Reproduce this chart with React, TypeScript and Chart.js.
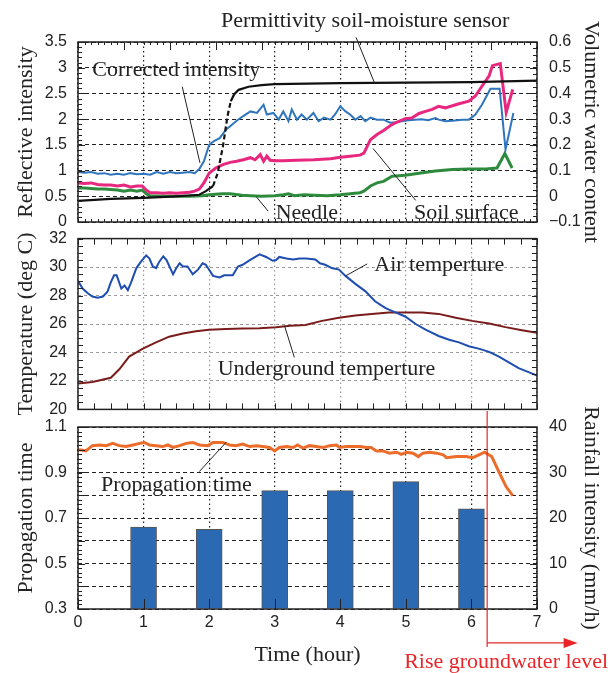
import React, { useEffect, useRef } from 'react';
import { Chart, registerables } from 'chart.js';

Chart.register(...registerables);

// ---------------- data ----------------
const hourTicks = [0, 1, 2, 3, 4, 5, 6, 7];
const hourLabels = ['0', '1', '2', '3', '4', '5', '6', '7'];

const intensityTicks = [0, 0.5, 1, 1.5, 2, 2.5, 3, 3.5];
const intensityLabels = ['0', '0.5', '1', '1.5', '2', '2.5', '3', '3.5'];
const waterTicks = [-0.1, 0, 0.1, 0.2, 0.3, 0.4, 0.5, 0.6];
const waterLabels = ['\u22120.1', '0', '0.1', '0.2', '0.3', '0.4', '0.5', '0.6'];
const tempTicks = [20, 22, 24, 26, 28, 30, 32];
const tempLabels = ['20', '22', '24', '26', '28', '30', '32'];
const propTicks = [0.3, 0.4, 0.5, 0.6, 0.7, 0.8, 0.9, 1.0, 1.1];
const propLabels = ['0.3', '', '0.5', '', '0.7', '', '0.9', '', '1.1'];
const rainTicks = [0, 10, 20, 30, 40];
const rainLabels = ['0', '10', '20', '30', '40'];

// Top panel: reflective intensity (left axis)
const correctedHours = [0, 0.1, 0.2, 0.3, 0.4, 0.5, 0.6, 0.7, 0.8, 0.9, 1.0, 1.1, 1.2, 1.3, 1.4, 1.5, 1.6, 1.7, 1.78, 1.85, 1.92, 2.0, 2.08, 2.16, 2.26, 2.32, 2.42, 2.52, 2.63, 2.73, 2.83, 2.88, 2.98, 3.06, 3.13, 3.21, 3.26, 3.34, 3.41, 3.49, 3.59, 3.67, 3.75, 3.85, 3.92, 4.0, 4.08, 4.15, 4.23, 4.31, 4.38, 4.46, 4.56, 4.66, 4.76, 4.84, 4.94, 5.04, 5.14, 5.24, 5.34, 5.45, 5.5, 5.6, 5.71, 5.86, 5.96, 6.06, 6.16, 6.29, 6.43, 6.52, 6.64];
const correctedValues = [0.97, 0.96, 0.97, 0.94, 0.95, 0.92, 0.94, 0.92, 0.95, 0.93, 0.94, 0.92, 0.97, 0.94, 0.97, 0.95, 0.96, 0.97, 0.95, 1.03, 1.18, 1.5, 1.58, 1.63, 1.8, 1.86, 1.97, 2.06, 2.15, 2.12, 2.28, 2.09, 2.12, 1.99, 2.15, 1.96, 2.19, 1.99, 2.09, 1.99, 2.12, 1.96, 2.03, 1.99, 2.09, 2.25, 2.15, 2.09, 1.99, 2.06, 1.96, 2.03, 1.99, 1.99, 1.93, 1.94, 1.96, 1.98, 1.99, 2.0, 1.98, 2.02, 1.99, 1.96, 1.97, 1.99, 1.99, 2.09, 2.28, 2.59, 2.59, 1.41, 2.12];

const surfaceHours = [0, 0.1, 0.2, 0.3, 0.4, 0.5, 0.6, 0.7, 0.8, 0.9, 0.98, 1.04, 1.1, 1.2, 1.3, 1.4, 1.5, 1.6, 1.7, 1.78, 1.85, 1.92, 2.0, 2.1, 2.22, 2.32, 2.42, 2.52, 2.63, 2.7, 2.78, 2.83, 2.88, 2.93, 3.0, 3.13, 3.34, 3.6, 3.85, 4.0, 4.15, 4.3, 4.36, 4.41, 4.46, 4.56, 4.66, 4.76, 4.84, 4.99, 5.09, 5.2, 5.3, 5.4, 5.5, 5.6, 5.71, 5.81, 5.96, 6.06, 6.16, 6.27, 6.32, 6.44, 6.53, 6.63];
const surfaceValues = [0.76, 0.75, 0.76, 0.73, 0.72, 0.72, 0.70, 0.72, 0.68, 0.70, 0.70, 0.62, 0.57, 0.57, 0.56, 0.57, 0.56, 0.57, 0.58, 0.60, 0.64, 0.76, 0.95, 1.05, 1.12, 1.16, 1.18, 1.21, 1.25, 1.21, 1.31, 1.18, 1.28, 1.20, 1.19, 1.19, 1.20, 1.21, 1.23, 1.26, 1.28, 1.30, 1.34, 1.47, 1.60, 1.70, 1.78, 1.87, 1.93, 2.01, 2.02, 2.11, 2.15, 2.19, 2.25, 2.22, 2.26, 2.30, 2.35, 2.45, 2.64, 2.84, 3.04, 3.08, 2.13, 2.58];

const needleHours = [0, 0.1, 0.2, 0.3, 0.4, 0.5, 0.6, 0.7, 0.8, 0.9, 0.98, 1.04, 1.1, 1.3, 1.5, 1.7, 1.9, 2.0, 2.1, 2.2, 2.32, 2.5, 2.63, 2.8, 3.0, 3.13, 3.21, 3.3, 3.45, 3.6, 3.8, 4.0, 4.15, 4.3, 4.36, 4.46, 4.56, 4.66, 4.79, 4.89, 4.99, 5.2, 5.45, 5.71, 5.96, 6.22, 6.39, 6.51, 6.62];
const needleValues = [0.66, 0.66, 0.65, 0.64, 0.64, 0.63, 0.62, 0.60, 0.62, 0.60, 0.62, 0.55, 0.51, 0.50, 0.50, 0.50, 0.51, 0.53, 0.54, 0.55, 0.55, 0.52, 0.51, 0.50, 0.51, 0.53, 0.55, 0.51, 0.53, 0.52, 0.51, 0.53, 0.55, 0.57, 0.60, 0.70, 0.76, 0.79, 0.89, 0.90, 0.91, 0.95, 0.99, 1.02, 1.03, 1.03, 1.05, 1.33, 1.05];

// Top panel: volumetric water content (right axis)
const sensorHours = [0, 0.5, 1.0, 1.5, 1.85, 1.95, 2.06, 2.13, 2.21, 2.28, 2.33, 2.38, 2.45, 2.6, 2.8, 3.0, 3.5, 4.0, 5.0, 6.0, 7.0];
const sensorValues = [-0.018, -0.01, -0.006, 0.0, 0.006, 0.02, 0.04, 0.09, 0.194, 0.312, 0.37, 0.396, 0.414, 0.426, 0.432, 0.436, 0.438, 0.44, 0.442, 0.444, 0.45];

// Middle panel: temperatures
const airHours = [0.0, 0.07, 0.15, 0.22, 0.30, 0.38, 0.45, 0.50, 0.55, 0.59, 0.66, 0.71, 0.76, 0.81, 0.89, 0.96, 1.04, 1.09, 1.14, 1.19, 1.24, 1.30, 1.35, 1.45, 1.50, 1.55, 1.60, 1.67, 1.75, 1.83, 1.90, 1.95, 2.06, 2.16, 2.23, 2.36, 2.44, 2.51, 2.62, 2.77, 2.87, 2.97, 3.02, 3.07, 3.18, 3.28, 3.38, 3.48, 3.62, 3.69, 3.77, 3.87, 3.98, 4.08, 4.23, 4.38, 4.53, 4.69, 4.84, 4.99, 5.15, 5.30, 5.50, 5.66, 5.81, 5.96, 6.11, 6.27, 6.42, 6.57, 6.72, 6.88, 7.0];
const airValues = [29.04, 28.49, 28.16, 27.93, 27.85, 27.93, 28.27, 28.93, 29.42, 29.42, 28.49, 28.71, 28.38, 28.93, 29.93, 30.38, 30.82, 30.6, 30.04, 29.93, 30.38, 30.76, 30.49, 29.49, 29.93, 30.27, 30.04, 30.04, 29.49, 29.82, 30.27, 30.16, 29.38, 29.27, 29.42, 29.42, 30.04, 30.16, 30.49, 30.89, 30.71, 30.44, 30.49, 30.71, 30.6, 30.53, 30.6, 30.6, 30.53, 30.27, 30.16, 29.93, 29.82, 29.38, 28.82, 28.31, 27.6, 27.11, 26.82, 26.53, 26.0, 25.6, 25.16, 24.89, 24.71, 24.44, 24.27, 24.04, 23.71, 23.3, 22.9, 22.6, 22.38];

const groundHours = [0.0, 0.22, 0.5, 0.63, 0.78, 0.99, 1.19, 1.39, 1.6, 1.8, 2.0, 2.26, 2.51, 2.77, 3.02, 3.23, 3.47, 3.72, 3.98, 4.23, 4.48, 4.74, 4.99, 5.25, 5.5, 5.76, 6.01, 6.27, 6.52, 6.77, 7.0];
const groundValues = [21.82, 21.93, 22.22, 22.82, 23.71, 24.27, 24.71, 25.11, 25.33, 25.49, 25.6, 25.64, 25.69, 25.71, 25.78, 25.87, 25.93, 26.22, 26.44, 26.6, 26.71, 26.8, 26.8, 26.8, 26.71, 26.44, 26.22, 26.04, 25.78, 25.56, 25.38];

// Bottom panel: propagation time (left) and rainfall (right)
const propHours = [0, 0.05, 0.12, 0.22, 0.33, 0.43, 0.53, 0.63, 0.73, 0.84, 0.94, 1.01, 1.09, 1.19, 1.29, 1.37, 1.45, 1.55, 1.65, 1.75, 1.85, 1.98, 2.06, 2.21, 2.31, 2.41, 2.51, 2.62, 2.72, 2.82, 2.92, 3.0, 3.07, 3.18, 3.28, 3.35, 3.43, 3.53, 3.63, 3.74, 3.84, 3.94, 3.99, 4.09, 4.19, 4.30, 4.40, 4.47, 4.55, 4.65, 4.75, 4.86, 4.93, 5.01, 5.11, 5.19, 5.26, 5.36, 5.47, 5.57, 5.62, 5.77, 5.92, 6.02, 6.13, 6.20, 6.31, 6.43, 6.53, 6.63];
const propValues = [1.0, 0.999, 0.995, 1.018, 1.021, 1.018, 1.028, 1.018, 1.014, 1.021, 1.028, 1.032, 1.021, 1.018, 1.014, 1.021, 1.010, 1.018, 1.028, 1.032, 1.021, 1.018, 1.032, 1.032, 1.021, 1.018, 1.025, 1.014, 1.018, 1.014, 1.010, 0.995, 1.010, 1.014, 1.010, 1.021, 1.007, 1.018, 1.014, 1.010, 1.018, 1.021, 1.010, 1.014, 1.014, 1.014, 1.010, 1.010, 0.995, 0.995, 0.985, 0.989, 0.980, 0.989, 0.985, 0.970, 0.985, 0.989, 0.985, 0.978, 0.965, 0.970, 0.970, 0.965, 0.980, 0.989, 0.970, 0.896, 0.837, 0.798];

const rainHours = [1, 2, 3, 4, 5, 6];
const rainValues = [18, 17.5, 26, 26, 28, 22];

// ---------------- styling helpers ----------------
const W = 614;
const SANS = "'Liberation Sans', Arial, sans-serif";
const SERIF = "'Liberation Serif', 'Times New Roman', serif";
const INK = '#222';
const RED = '#e8262a';
const tickFont = { family: SANS, size: 16 };
const titleFont = { family: SERIF, size: 22 };

const pts = (xs: number[], ys: number[]) => xs.map((x, i) => ({ x, y: ys[i] }));
const setTicks = (vals: number[]) => (s: any) => { s.ticks = vals.map((value) => ({ value })); };
const labelsOf = (labels: string[]) => (_v: any, i: number) => labels[i];
const fixWidth = (w: number) => (s: any) => { s.width = w; };
const fixHeight = (h: number) => (s: any) => { s.height = h; };

type TickSpec = { scale: string; side: string; step: number; len: number };
type Note = { text: string; x: number; y: number; yScale: string; color?: string };
type Leader = { x1: number; y1: number; x2: number; y2: number; yScale: string; color?: string; width?: number };
type Arrow = { x1: number; x2: number; y: number; yScale: string; color: string };
type Spec = { ticks: TickSpec[]; notes: Note[]; leaders: Leader[]; arrows?: Arrow[] };

function decor(spec: Spec) {
  return {
    id: 'decor',
    afterDraw(chart: any) {
      const { ctx, chartArea: a, scales } = chart;
      const X = scales.x;
      ctx.save();
      ctx.strokeStyle = INK;
      ctx.lineWidth = 1;
      for (const t of spec.ticks) {
        const s = scales[t.scale];
        const n = Math.round((s.max - s.min) / t.step);
        ctx.beginPath();
        for (let i = 0; i <= n; i++) {
          const p = Math.round(s.getPixelForValue(s.min + i * t.step)) + 0.5;
          if (t.side === 'left') { ctx.moveTo(a.left, p); ctx.lineTo(a.left + t.len, p); }
          else if (t.side === 'right') { ctx.moveTo(a.right, p); ctx.lineTo(a.right - t.len, p); }
          else if (t.side === 'top') { ctx.moveTo(p, a.top); ctx.lineTo(p, a.top + t.len); }
          else { ctx.moveTo(p, a.bottom); ctx.lineTo(p, a.bottom - t.len); }
        }
        ctx.stroke();
      }
      ctx.lineWidth = 1.5;
      ctx.strokeStyle = INK;
      ctx.strokeRect(a.left, a.top, a.right - a.left, a.bottom - a.top);
      for (const l of spec.leaders) {
        const Y = scales[l.yScale];
        ctx.strokeStyle = l.color || INK;
        ctx.lineWidth = l.width || 1;
        ctx.beginPath();
        ctx.moveTo(X.getPixelForValue(l.x1), Y.getPixelForValue(l.y1));
        ctx.lineTo(X.getPixelForValue(l.x2), Y.getPixelForValue(l.y2));
        ctx.stroke();
      }
      for (const ar of spec.arrows || []) {
        const y = scales[ar.yScale].getPixelForValue(ar.y);
        const xa = X.getPixelForValue(ar.x1);
        const xb = X.getPixelForValue(ar.x2);
        ctx.strokeStyle = ar.color;
        ctx.fillStyle = ar.color;
        ctx.lineWidth = 1.2;
        ctx.beginPath();
        ctx.moveTo(xa, y);
        ctx.lineTo(xb - 10, y);
        ctx.stroke();
        ctx.beginPath();
        ctx.moveTo(xb, y);
        ctx.lineTo(xb - 14, y - 5);
        ctx.lineTo(xb - 14, y + 5);
        ctx.closePath();
        ctx.fill();
      }
      ctx.font = `22px ${SERIF}`;
      ctx.textAlign = 'center';
      ctx.textBaseline = 'middle';
      for (const n of spec.notes) {
        ctx.fillStyle = n.color || INK;
        ctx.fillText(n.text, X.getPixelForValue(n.x), scales[n.yScale].getPixelForValue(n.y));
      }
      ctx.restore();
    },
  };
}

const baseOptions = (padding: any) => ({
  responsive: false,
  animation: false,
  events: [],
  layout: { padding },
  elements: { point: { radius: 0 }, line: { tension: 0 } },
  plugins: { legend: { display: false }, tooltip: { enabled: false } },
});

const hiddenX = (color: string, dash: number[]) => ({
  type: 'linear', min: 0, max: 7, offset: false,
  afterBuildTicks: setTicks(hourTicks),
  ticks: { display: false },
  grid: { color, lineWidth: 1.2, drawTicks: false, offset: false },
  border: { display: false, dash },
  afterFit: fixHeight(0),
});

const leftY = (min: number, max: number, ticks: number[], labels: string[], title: string, gridColor: string, dash: number[]) => ({
  position: 'left', min, max,
  afterBuildTicks: setTicks(ticks),
  ticks: { callback: labelsOf(labels), padding: 11, font: tickFont, color: INK, autoSkip: false },
  grid: { color: gridColor, lineWidth: 1, drawTicks: false },
  border: { display: false, dash },
  title: { display: true, text: title, font: titleFont, color: INK, padding: { top: 13, bottom: 0 } },
  afterFit: fixWidth(78),
});

const rightY = (min: number, max: number, ticks: number[], labels: string[], title: string) => ({
  position: 'right', min, max,
  afterBuildTicks: setTicks(ticks),
  ticks: { callback: labelsOf(labels), padding: 12, font: tickFont, color: INK, autoSkip: false },
  grid: { drawOnChartArea: false, drawTicks: false },
  border: { display: false },
  title: { display: true, text: title, font: titleFont, color: INK, padding: { top: 10, bottom: 0 } },
  afterFit: fixWidth(77),
});

function makeTop(): any {
  return {
    type: 'line',
    data: {
      datasets: [
        {
          label: 'Permittivity soil-moisture sensor', data: pts(sensorHours, sensorValues), yAxisID: 'y1',
          borderColor: '#111', borderWidth: 2.2,
          segment: { borderDash: (c: any) => (c.p0.parsed.x >= 2.06 && c.p1.parsed.x <= 2.36 ? [5, 3] : undefined) },
        },
        { label: 'Soil surface', data: pts(surfaceHours, surfaceValues), yAxisID: 'y', borderColor: '#e8287f', borderWidth: 3 },
        { label: 'Corrected intensity', data: pts(correctedHours, correctedValues), yAxisID: 'y', borderColor: '#2f75be', borderWidth: 2 },
        { label: 'Needle', data: pts(needleHours, needleValues), yAxisID: 'y', borderColor: '#2e8b3e', borderWidth: 3 },
      ],
    },
    options: {
      ...baseOptions({ left: 0, right: 0, top: 42, bottom: 28 }),
      scales: {
        x: hiddenX('#222', [1.5, 3]),
        y: leftY(0, 3.5, intensityTicks, intensityLabels, 'Reflective intensity', '#222', [4, 3]),
        y1: rightY(-0.1, 0.6, waterTicks, waterLabels, 'Volumetric water content'),
      },
    },
    plugins: [decor({
      ticks: [
        { scale: 'x', side: 'top', step: 0.1, len: 3 },
        { scale: 'x', side: 'top', step: 0.7, len: 8 },
        { scale: 'x', side: 'bottom', step: 0.1, len: 3 },
        { scale: 'y', side: 'left', step: 0.1, len: 4 },
        { scale: 'y', side: 'left', step: 0.5, len: 7 },
        { scale: 'y1', side: 'right', step: 0.025, len: 4 },
        { scale: 'y1', side: 'right', step: 0.1, len: 7 },
      ],
      notes: [
        { text: 'Permittivity soil-moisture sensor', x: 4.38, y: 3.9, yScale: 'y' },
        { text: 'Corrected intensity', x: 1.5, y: 2.96, yScale: 'y' },
        { text: 'Needle', x: 3.49, y: 0.18, yScale: 'y' },
        { text: 'Soil surface', x: 5.92, y: 0.18, yScale: 'y' },
      ],
      leaders: [
        { x1: 4.24, y1: 3.59, x2: 4.52, y2: 2.71, yScale: 'y' },
        { x1: 1.59, y1: 2.63, x2: 1.86, y2: 1.15, yScale: 'y' },
        { x1: 2.72, y1: 0.49, x2: 2.9, y2: 0.21, yScale: 'y' },
        { x1: 4.5, y1: 1.43, x2: 5.15, y2: 0.42, yScale: 'y' },
      ],
    })],
  };
}

function makeMiddle(): any {
  return {
    type: 'line',
    data: {
      datasets: [
        { label: 'Air temperture', data: pts(airHours, airValues), yAxisID: 'y', borderColor: '#1f4db0', borderWidth: 2 },
        { label: 'Underground temperture', data: pts(groundHours, groundValues), yAxisID: 'y', borderColor: '#7b1c1c', borderWidth: 2 },
      ],
    },
    options: {
      ...baseOptions({ left: 0, right: 77, top: 15, bottom: 16 }),
      scales: {
        x: hiddenX('#9a9a9a', [1.5, 3]),
        y: leftY(20, 32, tempTicks, tempLabels, 'Temperature (deg C)', '#9a9a9a', [3, 3]),
      },
    },
    plugins: [decor({
      ticks: [
        { scale: 'x', side: 'top', step: 0.25, len: 6 },
        { scale: 'x', side: 'bottom', step: 0.25, len: 6 },
        { scale: 'y', side: 'left', step: 0.5, len: 5 },
        { scale: 'y', side: 'right', step: 0.5, len: 5 },
      ],
      notes: [
        { text: 'Air temperture', x: 5.51, y: 30.13, yScale: 'y' },
        { text: 'Underground temperture', x: 3.79, y: 22.8, yScale: 'y' },
      ],
      leaders: [
        { x1: 4.41, y1: 30.22, x2: 4.08, y2: 29.38, yScale: 'y' },
        { x1: 3.15, y1: 25.87, x2: 3.3, y2: 23.65, yScale: 'y' },
      ],
    })],
  };
}

function makeBottom(): any {
  return {
    type: 'line',
    data: {
      datasets: [
        { label: 'Propagation time', data: pts(propHours, propValues), yAxisID: 'y', borderColor: '#ec6c2a', borderWidth: 3, order: 1 },
        {
          type: 'bar', label: 'Rainfall intensity', data: pts(rainHours, rainValues), yAxisID: 'y1',
          backgroundColor: '#2c69b3', borderColor: '#555', borderWidth: 1, barThickness: 26, order: 2,
        },
      ],
    },
    options: {
      ...baseOptions({ left: 0, right: 0, top: 22, bottom: 0 }),
      scales: {
        x: {
          type: 'linear', min: 0, max: 7, offset: false,
          afterBuildTicks: setTicks(hourTicks),
          ticks: { callback: labelsOf(hourLabels), padding: 4, font: tickFont, color: INK, autoSkip: false, maxRotation: 0 },
          grid: { color: '#222', lineWidth: 1.2, drawTicks: false, offset: false },
          border: { display: false, dash: [1.5, 3] },
          title: { display: true, text: 'Time (hour)', font: titleFont, color: INK, padding: { top: 0, bottom: 5 } },
          afterFit: fixHeight(64),
        },
        y: leftY(0.3, 1.1, propTicks, propLabels, 'Propagation time', '#222', [4, 3]),
        y1: rightY(0, 40, rainTicks, rainLabels, 'Rainfall intensity (mm/h)'),
      },
    },
    plugins: [decor({
      ticks: [
        { scale: 'y', side: 'left', step: 0.02, len: 4 },
        { scale: 'y', side: 'left', step: 0.1, len: 7 },
        { scale: 'y1', side: 'right', step: 1, len: 4 },
        { scale: 'y1', side: 'right', step: 10, len: 7 },
        { scale: 'x', side: 'bottom', step: 1, len: 10 },
      ],
      notes: [
        { text: 'Propagation time', x: 1.5, y: 0.845, yScale: 'y' },
        { text: 'Rise groundwater level', x: 6.53, y: 0.067, yScale: 'y', color: RED },
      ],
      leaders: [
        { x1: 1.85, y1: 0.904, x2: 2.26, y2: 1.033, yScale: 'y' },
        { x1: 6.24, y1: 1.17, x2: 6.24, y2: 0.133, yScale: 'y', color: RED, width: 1.2 },
      ],
      arrows: [{ x1: 6.24, x2: 7.62, y: 0.151, yScale: 'y', color: RED }],
    })],
  };
}

function Panel({ top, height, make }: { top: number; height: number; make: () => any }) {
  const ref = useRef<HTMLCanvasElement | null>(null);
  useEffect(() => {
    if (!ref.current) return;
    const chart = new Chart(ref.current, make());
    return () => chart.destroy();
  }, [make]);
  return (
    <canvas
      ref={ref}
      width={W}
      height={height}
      style={{ position: 'absolute', left: 0, top, width: W, height }}
    />
  );
}

export default function App() {
  return (
    <div style={{ position: 'absolute', left: 0, top: 0, width: 614, height: 673, background: '#fff' }}>
      <Panel top={0} height={250} make={makeTop} />
      <Panel top={218} height={212} make={makeMiddle} />
      <Panel top={405} height={268} make={makeBottom} />
    </div>
  );
}
